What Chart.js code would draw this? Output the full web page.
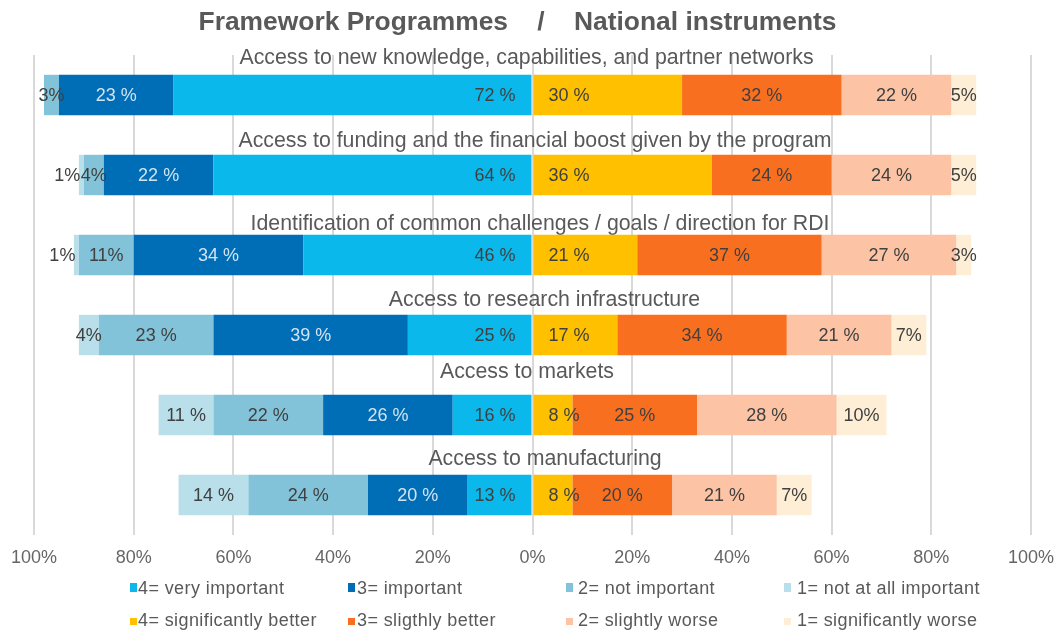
<!DOCTYPE html>
<html>
<head>
<meta charset="utf-8">
<script src="https://cdn.jsdelivr.net/npm/chart.js@4.4.1/dist/chart.umd.min.js"></script>
<style>
html,body{margin:0;padding:0;background:#ffffff;}
#wrap{width:1061px;height:632px;position:relative;}
</style>
</head>
<body>
<div id="wrap"><canvas id="c" width="1061" height="632"></canvas></div>
<script>
// ---------- DATA ----------
const chartTitle = 'Framework Programmes    /    National instruments';
const categories = [
  'Access to new knowledge, capabilities, and partner networks',
  'Access to funding and the financial boost given by the program',
  'Identification of common challenges / goals / direction for RDI',
  'Access to research infrastructure',
  'Access to markets',
  'Access to manufacturing'
];
// Framework Programmes (left side, % of respondents)
const fpVeryImportant   = [72, 64, 46, 25, 16, 13];
const fpImportant       = [23, 22, 34, 39, 26, 20];
const fpNotImportant    = [3, 4, 11, 23, 22, 24];
const fpNotAtAll        = [null, 1, 1, 4, 11, 14];
// National instruments (right side)
const niSigBetter       = [30, 36, 21, 17, 8, 8];
const niSlightBetter    = [32, 24, 37, 34, 25, 20];
const niSlightWorse     = [22, 24, 27, 21, 28, 21];
const niSigWorse        = [5, 5, 3, 7, 10, 7];

const seriesNames = [
  '4= very important', '3= important', '2= not important', '1= not at all important',
  '4= significantly better', '3= sligthly better', '2= slightly worse', '1= significantly worse'
];
const tickValues = [-100, -80, -60, -40, -20, 0, 20, 40, 60, 80, 100];
// labels printed without the space before "%" (series key, category index)
const compactLabels = [['fp2', 2], ['ni1', 4]];

// ---------- STYLE / LAYOUT ----------
const FONT = '"Liberation Sans", Arial, sans-serif';
const colors = {
  fp4: '#0bb8ec', fp3: '#006db7', fp2: '#82c3d9', fp1: '#b9dfeb',
  ni4: '#ffc000', ni3: '#f96f20', ni2: '#fcc4a4', ni1: '#fdeed5'
};
// caption offsets from the bar centre / zero line
const catTitleDy = [-37, -34, -31, -35, -43, -36];
const catTitleDx = [-6, 2.5, 7.5, 12, -5.5, 12.5];
const legendTextX = [138, 357, 578, 797];
const legendMarkX = [130, 348, 566, 784];
const legendBaseY = [594, 626];

function mk(key, name, vals, negative, inner, labelColor) {
  return {
    key: key,
    label: name,
    data: vals.map(v => v == null ? null : (negative ? -v : v)),
    backgroundColor: colors[key],
    borderWidth: 0,
    stack: 's',
    inner: inner,
    labelColor: labelColor,
    barPercentage: 0.505,
    categoryPercentage: 1.0
  };
}

const datasets = [
  mk('fp4', seriesNames[0], fpVeryImportant, true, true, '#404040'),
  mk('fp3', seriesNames[1], fpImportant, true, false, '#d3e3f1'),
  mk('fp2', seriesNames[2], fpNotImportant, true, false, '#404040'),
  mk('fp1', seriesNames[3], fpNotAtAll, true, false, '#404040'),
  mk('ni4', seriesNames[4], niSigBetter, false, true, '#404040'),
  mk('ni3', seriesNames[5], niSlightBetter, false, false, '#404040'),
  mk('ni2', seriesNames[6], niSlightWorse, false, false, '#404040'),
  mk('ni1', seriesNames[7], niSigWorse, false, false, '#404040')
];

// ---------- PLUGINS ----------
const titlePlugin = {
  id: 'mainTitle',
  afterDraw(chart) {
    const ctx = chart.ctx;
    ctx.save();
    ctx.font = 'bold 26.4px ' + FONT;
    ctx.fillStyle = '#595959';
    ctx.textAlign = 'center';
    ctx.textBaseline = 'alphabetic';
    ctx.fillText(chartTitle, 517.5, 29.5);
    ctx.restore();
  }
};

const catTitlePlugin = {
  id: 'catTitles',
  beforeDatasetsDraw(chart) {
    const ctx = chart.ctx;
    const xs = chart.scales.x, ys = chart.scales.y;
    ctx.save();
    ctx.font = '21.3px ' + FONT;
    ctx.fillStyle = '#595959';
    ctx.textAlign = 'center';
    ctx.textBaseline = 'middle';
    categories.forEach((c, i) => {
      ctx.fillText(c, xs.getPixelForValue(0) + catTitleDx[i], ys.getPixelForValue(i) + catTitleDy[i]);
    });
    ctx.restore();
  }
};

const segLabelPlugin = {
  id: 'segLabels',
  afterDatasetsDraw(chart) {
    const ctx = chart.ctx;
    const x0 = chart.scales.x.getPixelForValue(0);
    ctx.save();
    ctx.font = '18px ' + FONT;
    ctx.textBaseline = 'middle';
    chart.data.datasets.forEach((ds, di) => {
      const meta = chart.getDatasetMeta(di);
      meta.data.forEach((el, i) => {
        const v = ds.data[i];
        if (!v) return;
        const a = Math.abs(v);
        const p = el.getProps(['x', 'base', 'y'], true);
        const compact = !ds.inner && (a < 10 || compactLabels.some(c => c[0] === ds.key && c[1] === i));
        const txt = compact ? a + '%' : a + ' %';
        ctx.fillStyle = ds.labelColor;
        if (ds.inner) {
          if (v < 0) { ctx.textAlign = 'right'; ctx.fillText(txt, x0 - 17, p.y + 1); }
          else { ctx.textAlign = 'left'; ctx.fillText(txt, x0 + 16, p.y + 1); }
        } else {
          ctx.textAlign = 'center';
          const cx = (p.x + p.base) / 2 + (a <= 1 ? -14 : 0);
          ctx.fillText(txt, cx, p.y + 1);
        }
      });
    });
    ctx.restore();
  }
};

const legendPlugin = {
  id: 'gridLegend',
  afterDraw(chart) {
    const ctx = chart.ctx;
    ctx.save();
    ctx.font = '18px ' + FONT;
    if ('letterSpacing' in ctx) ctx.letterSpacing = '0.4px';
    ctx.textBaseline = 'alphabetic';
    ctx.textAlign = 'left';
    chart.data.datasets.forEach((ds, i) => {
      const col = i % 4, row = Math.floor(i / 4);
      const by = legendBaseY[row];
      ctx.fillStyle = ds.backgroundColor;
      if (row === 0) ctx.fillRect(legendMarkX[col], by - 11, 7, 9);
      else ctx.fillRect(legendMarkX[col], by - 8, 7, 7);
      ctx.fillStyle = '#595959';
      ctx.fillText(ds.label, legendTextX[col], by);
    });
    ctx.restore();
  }
};

// ---------- CHART ----------
Chart.defaults.font.family = FONT;
new Chart(document.getElementById('c'), {
  type: 'bar',
  data: { labels: categories, datasets: datasets },
  options: {
    indexAxis: 'y',
    responsive: false,
    animation: false,
    layout: { padding: { top: 55, bottom: 51.4, left: 34, right: 30 } },
    scales: {
      x: {
        stacked: true,
        min: -100, max: 100,
        afterBuildTicks(scale) { scale.ticks = tickValues.map(v => ({ value: v })); },
        afterFit(scale) { scale.paddingLeft = 0; scale.paddingRight = 0; },
        ticks: {
          callback: v => Math.abs(v) + '%',
          color: '#666666',
          font: { size: 18 },
          padding: 12
        },
        grid: { color: '#d9d9d9', lineWidth: 2, drawTicks: false },
        border: { display: false }
      },
      y: {
        stacked: true,
        display: false
      }
    },
    plugins: {
      legend: { display: false },
      title: { display: false },
      tooltip: { enabled: false }
    }
  },
  plugins: [catTitlePlugin, segLabelPlugin, titlePlugin, legendPlugin]
});
</script>
</body>
</html>
